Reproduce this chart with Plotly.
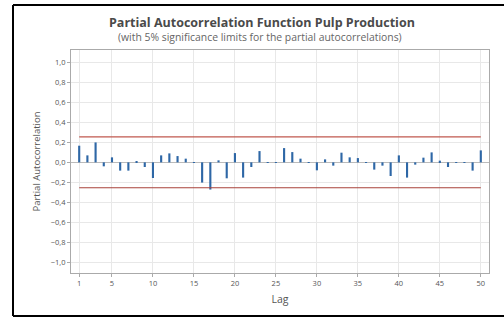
import plotly.graph_objects as go

lags = list(range(1, 51))
pacf = [0.167, 0.07, 0.2, -0.04, 0.05, -0.083, -0.083, 0.005, -0.047, -0.157,
        0.07, 0.09, 0.063, 0.037, -0.005, -0.203, -0.273, 0.02, -0.16, 0.093,
        -0.153, -0.047, 0.113, -0.005, 0.003, 0.143, 0.103, 0.037, 0.003, -0.08,
        0.03, -0.033, 0.097, 0.05, 0.043, 0.003, -0.073, -0.033, -0.137, 0.07,
        -0.153, -0.023, 0.047, 0.1, 0.017, -0.047, 0.003, 0.003, -0.083, 0.12]
limit = 0.255
x_ticks = [1, 5, 10, 15, 20, 25, 30, 35, 40, 45, 50]
y_ticks = [-1.0, -0.8, -0.6, -0.4, -0.2, 0.0, 0.2, 0.4, 0.6, 0.8, 1.0]

title = "Partial Autocorrelation Function Pulp Production"
subtitle = "(with 5% significance limits for the partial autocorrelations)"

fig = go.Figure()
fig.add_trace(go.Scatter(x=[lags[0], lags[-1]], y=[limit, limit], mode="lines",
                         line=dict(color="#c0584f", width=1.2), hoverinfo="skip"))
fig.add_trace(go.Scatter(x=[lags[0], lags[-1]], y=[-limit, -limit], mode="lines",
                         line=dict(color="#a8423a", width=1.2), hoverinfo="skip"))
fig.add_trace(go.Bar(x=lags, y=pacf, width=0.26, marker=dict(color="#2e67a6", line=dict(width=0))))

W, H = 504, 317
L, R, T, B = 71, 15, 50, 44
pw, ph = W - L - R, H - T - B

def px(x):
    return (x - L) / pw

def py(y):
    return (H - B - y) / ph

fig.update_layout(
    width=W, height=H,
    margin=dict(l=L, r=R, t=T, b=B, autoexpand=False),
    paper_bgcolor="white", plot_bgcolor="white",
    showlegend=False,
    separators=",.",
    font=dict(family="Open Sans", color="#555555"),
    annotations=[
        dict(text="<b>" + title + "</b>", x=px(262), y=py(22), xref="paper", yref="paper",
             showarrow=False, font=dict(size=12.5, color="#4a4a4a", family="Open Sans"),
             xanchor="center", yanchor="middle"),
        dict(text=subtitle, x=px(260), y=py(37), xref="paper", yref="paper",
             showarrow=False, font=dict(size=10.4, color="#666666", family="Open Sans"),
             xanchor="center", yanchor="middle"),
    ],
    shapes=[
        dict(type="line", xref="paper", yref="paper", x0=px(13), x1=px(506), y0=py(5), y1=py(5),
             line=dict(color="black", width=2)),
        dict(type="line", xref="paper", yref="paper", x0=px(13), x1=px(13), y0=py(5), y1=py(316),
             line=dict(color="black", width=2)),
        dict(type="line", xref="paper", yref="paper", x0=px(13), x1=px(506), y0=py(316), y1=py(316),
             line=dict(color="black", width=2)),
    ],
)
fig.update_xaxes(range=[0, 51], tickvals=x_ticks, showgrid=True, gridcolor="#e8e8e8",
                 showline=True, linecolor="#aaaaaa", mirror=True, ticks="outside",
                 ticklen=3, tickcolor="#aaaaaa", tickfont=dict(size=7.5, color="#555555"),
                 title=dict(text="Lag", font=dict(size=10.5, color="#555555"), standoff=8),
                 zeroline=False, automargin=False)
fig.update_yaxes(range=[-1.11, 1.127], tickvals=y_ticks, tickformat=".1f", showgrid=True,
                 gridcolor="#e8e8e8", showline=True, linecolor="#aaaaaa", mirror=True,
                 ticks="outside", ticklen=3, tickcolor="#aaaaaa",
                 tickfont=dict(size=7.5, color="#555555"),
                 title=dict(text="Partial Autocorrelation", font=dict(size=9.5, color="#555555"), standoff=8),
                 zeroline=True, zerolinecolor="#bbbbbb", zerolinewidth=1, automargin=False)

fig.write_html("out.html", config={"displayModeBar": False},
               post_script="document.body.style.margin='0';document.body.style.overflow='hidden';")
